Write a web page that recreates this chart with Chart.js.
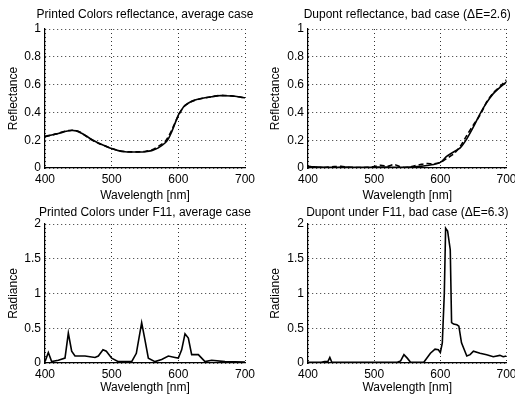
<!DOCTYPE html>
<html lang="en">
<head>
<meta charset="UTF-8">
<title>Reflectance and radiance spectra</title>
<script src="https://cdn.jsdelivr.net/npm/chart.js"></script>
<style>
  body { margin: 0; background: #fff; width: 515px; height: 397px; overflow: hidden; position: relative; }
  canvas { position: absolute; }
</style>
</head>
<body>
<canvas id="c1" width="257" height="204" style="left:0;top:0"></canvas>
<canvas id="c2" width="258" height="204" style="left:257px;top:0"></canvas>
<canvas id="c3" width="257" height="199" style="left:0;top:198px"></canvas>
<canvas id="c4" width="258" height="199" style="left:257px;top:198px"></canvas>
<script>
// tick labels
const wlTicks = [400, 500, 600, 700];
const reflTicks = [0, 0.2, 0.4, 0.6, 0.8, 1];
const radTicks = [0, 0.5, 1, 1.5, 2];

// Printed Colors reflectance (measured / estimated)
const pcReflWl = [400, 410, 420, 430, 440, 447, 455, 462, 470, 480, 490, 500, 510, 520, 530, 540, 550, 560, 570, 580, 585, 590, 595, 600, 605, 610, 620, 630, 640, 650, 660, 670, 680, 690, 700];
const pcReflMeas = [0.228, 0.238, 0.248, 0.262, 0.270, 0.267, 0.250, 0.230, 0.205, 0.180, 0.160, 0.140, 0.125, 0.117, 0.115, 0.115, 0.117, 0.125, 0.145, 0.180, 0.210, 0.260, 0.320, 0.380, 0.420, 0.450, 0.480, 0.495, 0.505, 0.512, 0.520, 0.520, 0.518, 0.513, 0.505];
const pcReflEst = [0.226, 0.236, 0.250, 0.264, 0.272, 0.268, 0.252, 0.228, 0.203, 0.178, 0.158, 0.141, 0.126, 0.118, 0.116, 0.116, 0.119, 0.130, 0.155, 0.190, 0.225, 0.270, 0.325, 0.375, 0.418, 0.448, 0.478, 0.494, 0.504, 0.513, 0.521, 0.522, 0.519, 0.512, 0.503];

// Dupont reflectance (measured / estimated)
const dpReflWl = [400, 410, 420, 430, 440, 450, 460, 470, 480, 490, 500, 510, 520, 530, 540, 550, 560, 570, 580, 590, 600, 610, 620, 630, 640, 650, 660, 670, 680, 690, 700];
const dpReflMeas = [0.010, 0.008, 0.006, 0.005, 0.005, 0.006, 0.006, 0.005, 0.005, 0.005, 0.006, 0.007, 0.006, 0.005, 0.005, 0.006, 0.008, 0.012, 0.018, 0.025, 0.040, 0.085, 0.115, 0.145, 0.210, 0.295, 0.390, 0.470, 0.535, 0.580, 0.620];
const dpReflEst = [0.012, 0.005, 0.003, 0.006, 0.010, 0.012, 0.006, 0.004, 0.003, 0.005, 0.010, 0.020, 0.012, 0.025, 0.008, 0.004, 0.015, 0.025, 0.032, 0.030, 0.040, 0.070, 0.100, 0.155, 0.235, 0.310, 0.380, 0.475, 0.540, 0.585, 0.635];

// Printed Colors radiance under F11
const pcRadWl = [400, 405, 410, 420, 430, 435, 440, 445, 460, 475, 480, 487, 492, 500, 510, 530, 537, 545, 550, 555, 565, 575, 585, 595, 600, 605, 610, 615, 620, 630, 635, 640, 650, 670, 700];
const pcRadMeas = [0.02, 0.15, 0.02, 0.04, 0.07, 0.43, 0.17, 0.10, 0.10, 0.08, 0.10, 0.19, 0.17, 0.07, 0.02, 0.02, 0.14, 0.58, 0.33, 0.07, 0.02, 0.05, 0.10, 0.08, 0.07, 0.19, 0.42, 0.36, 0.12, 0.12, 0.07, 0.02, 0.04, 0.02, 0.015];

// Dupont radiance under F11
const dpRadWl = [400, 410, 420, 425, 430, 433, 436, 440, 460, 480, 500, 520, 535, 540, 545, 550, 555, 575, 585, 592, 597, 600, 603, 606, 608, 611, 615, 617, 620, 625, 628, 632, 640, 645, 650, 660, 670, 680, 690, 695, 700];
const dpRadMeas = [0.01, 0.01, 0.01, 0.02, 0.02, 0.08, 0.01, 0.01, 0.01, 0.01, 0.01, 0.01, 0.01, 0.03, 0.12, 0.07, 0.01, 0.01, 0.14, 0.20, 0.19, 0.15, 0.29, 1.00, 1.94, 1.90, 1.63, 0.58, 0.56, 0.55, 0.53, 0.29, 0.10, 0.12, 0.17, 0.14, 0.12, 0.09, 0.11, 0.09, 0.10];

const FONT = "'Liberation Sans', Arial, Helvetica, sans-serif";

function pts(xs, ys) {
  return xs.map((x, i) => ({ x: x, y: ys[i] }));
}

// plain number labels, like "0", "0.2", "1"
const plain = v => String(+Number(v).toFixed(2));

// title centred over the plot box, drawn without width squeezing
const plotTitle = {
  id: 'plotTitle',
  afterDraw(chart, args, opts) {
    const { ctx, chartArea } = chart;
    ctx.save();
    ctx.font = '12px ' + FONT;
    ctx.fillStyle = '#000';
    ctx.textAlign = 'center';
    ctx.textBaseline = 'alphabetic';
    ctx.fillText(opts.text, (chartArea.left + chartArea.right) / 2, opts.baseline);
    ctx.restore();
  }
};

function makePlot(id, title, yLabel, yTicks, series, g) {
  const ctx = document.getElementById(id).getContext('2d');
  const yMax = yTicks[yTicks.length - 1];
  return new Chart(ctx, {
    type: 'line',
    data: {
      datasets: series.map(s => ({
        data: s.data,
        borderColor: '#000',
        borderWidth: 1.6,
        borderDash: s.dashed ? [5, 3] : [],
        pointRadius: 0,
        tension: s.smooth ? 0.3 : 0,
        fill: false
      }))
    },
    plugins: [plotTitle],
    options: {
      responsive: false,
      animation: false,
      devicePixelRatio: 1,
      events: [],
      layout: { padding: { left: 0, top: g.top, bottom: 0, right: g.padRight } },
      plugins: {
        legend: { display: false },
        tooltip: { enabled: false },
        title: { display: false },
        plotTitle: { text: title, baseline: g.titleBase }
      },
      scales: {
        x: {
          type: 'linear',
          min: 400,
          max: 700,
          afterBuildTicks: s => { s.ticks = wlTicks.map(v => ({ value: v })); },
          afterFit: s => { s.height = g.xAxisH; s.paddingLeft = 0; s.paddingRight = 0; },
          ticks: { color: '#000', font: { family: FONT, size: 12 }, padding: 4, maxRotation: 0, callback: plain },
          grid: { color: '#333', lineWidth: 1, drawTicks: false },
          border: { display: true, color: '#000', width: 1.2, dash: [1, 3] },
          title: {
            display: true, text: 'Wavelength [nm]', color: '#000',
            font: { family: FONT, size: 12, lineHeight: 1.2 },
            padding: { top: 0, bottom: g.xTitlePad }
          }
        },
        y: {
          type: 'linear',
          min: 0,
          max: yMax,
          afterBuildTicks: s => { s.ticks = yTicks.map(v => ({ value: v })); },
          afterFit: s => { s.width = g.yAxisW; s.paddingTop = 0; s.paddingBottom = 0; },
          ticks: { color: '#000', font: { family: FONT, size: 12 }, padding: 4, callback: plain },
          grid: { color: '#333', lineWidth: 1, drawTicks: false },
          border: { display: true, color: '#000', width: 1.2, dash: [1, 3] },
          title: {
            display: true, text: yLabel, color: '#000',
            font: { family: FONT, size: 12, lineHeight: 1.2 },
            padding: { top: g.yTitlePad, bottom: 0 }
          }
        }
      }
    }
  });
}

makePlot('c1', 'Printed Colors reflectance, average case', 'Reflectance', reflTicks, [
  { data: pts(pcReflWl, pcReflMeas), smooth: true },
  { data: pts(pcReflWl, pcReflEst), smooth: true, dashed: true }
], { yAxisW: 45, padRight: 12, top: 29, titleBase: 18, xAxisH: 36, xTitlePad: 1.5, yTitlePad: 6 });

makePlot('c2', 'Dupont reflectance, bad case (\u0394E=2.6)', 'Reflectance', reflTicks, [
  { data: pts(dpReflWl, dpReflMeas), smooth: true },
  { data: pts(dpReflWl, dpReflEst), smooth: true, dashed: true }
], { yAxisW: 51, padRight: 8.5, top: 29, titleBase: 18, xAxisH: 36, xTitlePad: 1.5, yTitlePad: 11.3 });

makePlot('c3', 'Printed Colors under F11, average case', 'Radiance', radTicks, [
  { data: pts(pcRadWl, pcRadMeas) }
], { yAxisW: 45, padRight: 12, top: 26, titleBase: 18, xAxisH: 34, xTitlePad: 2.3, yTitlePad: 6 });

makePlot('c4', 'Dupont under F11, bad case (\u0394E=6.3)', 'Radiance', radTicks, [
  { data: pts(dpRadWl, dpRadMeas) }
], { yAxisW: 51, padRight: 8.5, top: 26, titleBase: 18, xAxisH: 34, xTitlePad: 2.3, yTitlePad: 11.3 });
</script>
</body>
</html>
